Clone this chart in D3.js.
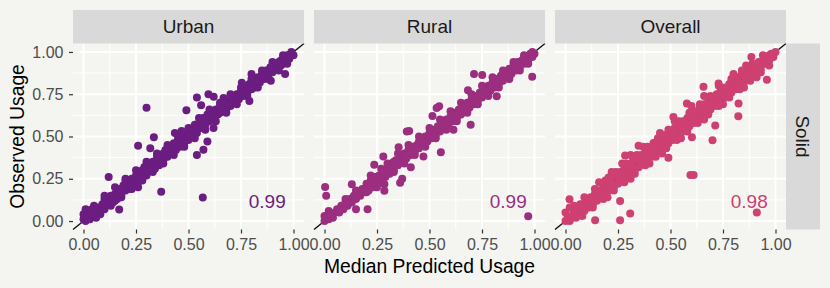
<!DOCTYPE html>
<html>
<head>
<meta charset="utf-8">
<script src="https://cdn.jsdelivr.net/npm/d3@7"></script>
<style>
  body { margin: 0; background: #f4f4f0; }
  text { font-family: "Liberation Sans", Arial, sans-serif; }
</style>
</head>
<body>
<div class="usage-chart-container"></div>
<script>
// facets and their colours
var facets = ["Urban", "Rural", "Overall"];
var facetColors = ["#6c1d81", "#9c2e7f", "#cd4071"];
var rowLabel = "Solid";
var corrLabels = ["0.99", "0.99", "0.98"];
var tickValues = [0, 0.25, 0.5, 0.75, 1];
var minorValues = [0.125, 0.375, 0.625, 0.875];

// [median predicted, observed]
var urban = [
  [0.00,0.01],[0.01,0.00],[0.02,0.03],[0.00,0.04],[0.01,0.07],[0.04,0.07],[0.03,0.01],[0.05,0.03],
  [0.06,0.05],[0.04,0.04],[0.07,0.08],[0.08,0.06],[0.09,0.10],[0.06,0.02],[0.10,0.07],[0.11,0.12],
  [0.12,0.10],[0.13,0.15],[0.14,0.11],[0.15,0.16],[0.16,0.13],[0.17,0.19],[0.18,0.15],[0.19,0.21],
  [0.20,0.18],[0.21,0.23],[0.22,0.19],[0.23,0.25],[0.24,0.21],[0.25,0.27],[0.26,0.23],[0.27,0.29],
  [0.28,0.25],[0.29,0.32],[0.30,0.27],[0.31,0.33],[0.32,0.30],[0.33,0.35],[0.34,0.31],[0.35,0.38],
  [0.36,0.33],[0.37,0.39],[0.38,0.36],[0.39,0.42],[0.40,0.38],[0.41,0.43],[0.42,0.40],[0.43,0.46],
  [0.44,0.42],[0.45,0.48],[0.46,0.44],[0.47,0.50],[0.48,0.46],[0.49,0.52],[0.50,0.48],[0.51,0.54],
  [0.52,0.50],[0.53,0.57],[0.54,0.52],[0.55,0.58],[0.56,0.55],[0.57,0.61],[0.58,0.57],[0.59,0.63],
  [0.60,0.59],[0.61,0.65],[0.62,0.61],[0.63,0.66],[0.64,0.63],[0.65,0.68],[0.66,0.65],[0.67,0.69],
  [0.68,0.66],[0.69,0.71],[0.70,0.68],[0.71,0.73],[0.72,0.70],[0.73,0.75],[0.74,0.72],[0.75,0.77],
  [0.76,0.74],[0.77,0.79],[0.78,0.76],[0.79,0.81],[0.80,0.78],[0.81,0.83],[0.82,0.79],[0.83,0.85],
  [0.84,0.82],[0.85,0.87],[0.86,0.84],[0.87,0.89],[0.88,0.86],[0.89,0.91],[0.90,0.88],[0.91,0.92],
  [0.92,0.90],[0.93,0.94],[0.94,0.92],[0.95,0.96],[0.96,0.94],[0.97,0.98],[0.98,0.96],[0.99,0.99],
  [1.00,0.98],[0.99,1.00],[0.97,0.95],[0.95,0.93],
  [0.10,0.13],[0.15,0.12],[0.20,0.24],[0.22,0.22],[0.25,0.22],[0.28,0.30],[0.30,0.31],[0.33,0.30],
  [0.35,0.34],[0.38,0.40],[0.40,0.41],[0.44,0.45],[0.46,0.49],[0.48,0.50],[0.50,0.52],[0.52,0.53],
  [0.55,0.55],[0.57,0.57],[0.60,0.62],[0.62,0.64],[0.65,0.64],[0.68,0.70],[0.70,0.71],[0.72,0.73],
  [0.75,0.74],[0.78,0.80],[0.80,0.81],[0.82,0.83],[0.85,0.84],[0.88,0.89],[0.90,0.91],[0.92,0.93],
  [0.94,0.95],[0.96,0.97],[0.98,0.98],
  [0.02,0.02],[0.06,0.06],[0.10,0.10],[0.14,0.14],[0.18,0.18],[0.26,0.26],[0.30,0.30],[0.34,0.34],
  [0.42,0.42],[0.46,0.46],[0.50,0.50],[0.54,0.54],[0.58,0.58],[0.62,0.62],[0.66,0.66],[0.70,0.70],
  [0.74,0.74],[0.78,0.78],[0.82,0.82],[0.86,0.86],[0.90,0.90],[0.94,0.94],
  [0.05,0.09],[0.10,0.15],[0.15,0.20],[0.20,0.25],[0.25,0.30],[0.30,0.35],[0.35,0.40],[0.40,0.45],
  [0.45,0.50],[0.50,0.55],[0.55,0.61],[0.60,0.66],[0.65,0.70],[0.70,0.75],[0.75,0.79],[0.80,0.84],
  [0.85,0.89],[0.90,0.94],[0.95,0.98],
  [0.08,0.04],[0.13,0.09],[0.18,0.14],[0.23,0.19],[0.28,0.24],[0.33,0.29],[0.38,0.34],[0.43,0.39],
  [0.48,0.44],[0.53,0.49],[0.58,0.54],[0.63,0.59],[0.68,0.64],[0.73,0.69],[0.78,0.74],[0.83,0.79],
  [0.88,0.84],[0.93,0.89],[0.97,0.93],
  [0.30,0.67],[0.49,0.655],[0.54,0.73],[0.56,0.685],[0.595,0.75],[0.62,0.735],[0.667,0.728],[0.79,0.71],
  [0.754,0.818],[0.80,0.87],[0.96,0.87],[0.892,0.83],[0.12,0.26],[0.17,0.068],[0.26,0.20],[0.37,0.173],
  [0.568,0.139],[0.26,0.445],[0.335,0.496],[0.318,0.431],[0.54,0.39],[0.571,0.421],[0.619,0.55],[0.59,0.47],
  [0.435,0.52],[0.467,0.532]
];

var rural = [
  [0.00,0.00],[0.01,0.02],[0.02,0.01],[0.00,0.03],[0.03,0.04],[0.04,0.02],[0.02,0.06],[0.05,0.05],
  [0.06,0.07],[0.07,0.05],[0.08,0.09],[0.09,0.07],[0.10,0.11],[0.11,0.09],[0.12,0.13],[0.13,0.11],
  [0.14,0.15],[0.15,0.13],[0.16,0.17],[0.17,0.15],[0.18,0.19],[0.19,0.17],[0.20,0.22],[0.21,0.18],
  [0.22,0.24],[0.23,0.20],[0.24,0.26],[0.25,0.22],[0.26,0.27],[0.27,0.24],[0.28,0.30],[0.29,0.26],
  [0.30,0.31],[0.31,0.28],[0.32,0.34],[0.33,0.30],[0.34,0.36],[0.35,0.33],[0.36,0.38],[0.37,0.35],
  [0.38,0.40],[0.39,0.37],[0.40,0.42],[0.41,0.39],[0.42,0.44],[0.43,0.41],[0.44,0.45],[0.45,0.43],
  [0.46,0.48],[0.47,0.45],[0.48,0.50],[0.49,0.47],[0.50,0.52],[0.51,0.49],[0.52,0.54],[0.53,0.51],
  [0.54,0.56],[0.55,0.53],[0.56,0.58],[0.57,0.55],[0.58,0.60],[0.59,0.57],[0.60,0.62],[0.61,0.59],
  [0.62,0.64],[0.63,0.61],[0.64,0.66],[0.65,0.63],[0.66,0.68],[0.67,0.65],[0.68,0.70],[0.69,0.67],
  [0.70,0.72],[0.71,0.69],[0.72,0.74],[0.73,0.71],[0.74,0.76],[0.75,0.73],[0.76,0.78],[0.77,0.75],
  [0.78,0.80],[0.79,0.77],[0.80,0.82],[0.81,0.79],[0.82,0.84],[0.83,0.81],[0.84,0.86],[0.85,0.83],
  [0.86,0.88],[0.87,0.85],[0.88,0.90],[0.89,0.87],[0.90,0.92],[0.91,0.89],[0.92,0.94],[0.93,0.91],
  [0.94,0.95],[0.95,0.93],[0.96,0.97],[0.97,0.95],[0.98,0.99],[0.99,0.97],[1.00,0.99],[0.99,1.00],
  [0.25,0.26],[0.30,0.29],[0.33,0.35],[0.36,0.35],[0.40,0.40],[0.45,0.47],[0.50,0.50],[0.55,0.56],
  [0.60,0.60],[0.65,0.66],[0.70,0.70],[0.75,0.76],[0.80,0.80],[0.85,0.86],[0.90,0.90],[0.95,0.96],
  [0.03,0.03],[0.07,0.07],[0.11,0.11],[0.15,0.15],[0.19,0.19],[0.23,0.23],[0.27,0.27],[0.31,0.31],
  [0.35,0.35],[0.39,0.39],[0.43,0.43],[0.47,0.47],[0.51,0.51],[0.55,0.55],[0.59,0.59],[0.63,0.63],
  [0.67,0.67],[0.71,0.71],[0.75,0.75],[0.79,0.79],[0.83,0.83],[0.87,0.87],[0.91,0.91],[0.95,0.95],
  [0.10,0.13],[0.15,0.18],[0.20,0.17],[0.25,0.20],[0.22,0.27],[0.27,0.31],
  [0.30,0.34],[0.35,0.40],[0.40,0.45],[0.45,0.50],[0.50,0.55],[0.55,0.60],[0.60,0.65],[0.65,0.70],
  [0.70,0.75],[0.75,0.80],[0.80,0.85],[0.85,0.89],[0.90,0.94],[0.95,0.98],
  [0.33,0.29],[0.38,0.34],[0.43,0.39],[0.48,0.44],[0.53,0.49],[0.58,0.54],[0.63,0.59],[0.68,0.64],
  [0.73,0.69],[0.78,0.74],[0.83,0.79],[0.88,0.84],[0.93,0.89],[0.97,0.93],
  [0.003,0.202],[0.008,0.149],[0.15,0.07],[0.205,0.07],[0.285,0.179],[0.285,0.218],[0.237,0.333],[0.403,0.532],
  [0.554,0.407],[0.514,0.621],[0.546,0.679],[0.712,0.869],[0.751,0.863],[0.683,0.774],[0.989,0.854],[0.97,0.028],
  [0.36,0.226],[0.37,0.25],[0.13,0.217],[0.28,0.381],[0.353,0.437],[0.392,0.53],[0.534,0.669],[0.82,0.738],
  [0.696,0.57],[0.614,0.54],[0.471,0.381],[0.411,0.318]
];

var overall = [
  [0.00,0.00],[0.01,0.03],[0.02,0.00],[0.00,0.05],[0.03,0.02],[0.02,0.08],[0.04,0.05],[0.05,0.02],
  [0.06,0.08],[0.07,0.04],[0.08,0.10],[0.09,0.06],[0.10,0.12],[0.11,0.08],[0.12,0.14],[0.13,0.10],
  [0.14,0.16],[0.15,0.12],[0.16,0.18],[0.17,0.14],[0.18,0.20],[0.19,0.16],[0.20,0.23],[0.21,0.18],
  [0.22,0.25],[0.23,0.20],[0.24,0.27],[0.25,0.22],[0.26,0.29],[0.27,0.24],[0.28,0.31],[0.29,0.26],
  [0.30,0.33],[0.31,0.28],[0.32,0.35],[0.33,0.30],[0.34,0.37],[0.35,0.32],[0.36,0.39],[0.37,0.34],
  [0.38,0.41],[0.39,0.36],[0.40,0.43],[0.41,0.38],[0.42,0.45],[0.43,0.40],[0.44,0.47],[0.45,0.42],
  [0.46,0.49],[0.47,0.44],[0.48,0.51],[0.49,0.46],[0.50,0.53],[0.51,0.48],[0.52,0.55],[0.53,0.50],
  [0.54,0.57],[0.55,0.52],[0.56,0.59],[0.57,0.54],[0.58,0.61],[0.59,0.56],[0.60,0.63],[0.61,0.58],
  [0.62,0.65],[0.63,0.60],[0.64,0.67],[0.65,0.62],[0.66,0.69],[0.67,0.64],[0.68,0.71],[0.69,0.66],
  [0.70,0.73],[0.71,0.68],[0.72,0.75],[0.73,0.70],[0.74,0.77],[0.75,0.72],[0.76,0.79],[0.77,0.74],
  [0.78,0.81],[0.79,0.76],[0.80,0.83],[0.81,0.78],[0.82,0.85],[0.83,0.80],[0.84,0.87],[0.85,0.82],
  [0.86,0.88],[0.87,0.84],[0.88,0.90],[0.89,0.86],[0.90,0.92],[0.91,0.88],[0.92,0.94],[0.93,0.90],
  [0.94,0.95],[0.95,0.93],[0.96,0.97],[0.97,0.95],[0.98,0.99],[0.99,0.97],[1.00,1.00],[0.99,0.99],
  [0.97,0.98],
  [0.05,0.06],[0.10,0.10],[0.15,0.15],[0.20,0.20],[0.25,0.26],[0.30,0.30],[0.35,0.36],[0.40,0.40],
  [0.45,0.46],[0.50,0.50],[0.55,0.56],[0.60,0.60],[0.65,0.66],[0.70,0.70],[0.75,0.76],[0.80,0.80],
  [0.85,0.86],[0.90,0.90],[0.95,0.96],[0.12,0.11],[0.18,0.17],[0.28,0.28],[0.38,0.38],[0.48,0.48],
  [0.58,0.58],[0.68,0.68],[0.78,0.78],[0.88,0.88],
  [0.02,0.02],[0.07,0.07],[0.13,0.13],[0.17,0.17],[0.22,0.22],[0.26,0.26],[0.32,0.32],[0.36,0.36],
  [0.42,0.42],[0.46,0.46],[0.52,0.52],[0.56,0.56],[0.62,0.62],[0.66,0.66],[0.72,0.72],[0.76,0.76],
  [0.82,0.82],[0.86,0.86],[0.92,0.92],[0.96,0.96],
  [0.04,0.09],[0.09,0.14],[0.14,0.19],[0.19,0.24],[0.24,0.29],[0.29,0.34],[0.34,0.39],[0.39,0.44],
  [0.44,0.49],[0.49,0.54],[0.54,0.59],[0.59,0.64],[0.64,0.69],[0.69,0.74],[0.74,0.79],[0.79,0.84],
  [0.84,0.89],[0.89,0.93],[0.94,0.98],
  [0.08,0.03],[0.13,0.08],[0.18,0.13],[0.23,0.18],[0.28,0.23],[0.33,0.28],[0.38,0.33],[0.43,0.38],
  [0.48,0.43],[0.53,0.48],[0.58,0.53],[0.63,0.58],[0.68,0.63],[0.73,0.68],[0.78,0.73],[0.83,0.78],
  [0.88,0.83],[0.93,0.88],[0.97,0.92],
  [0.16,0.23],[0.22,0.29],[0.27,0.34],[0.31,0.39],[0.37,0.44],[0.45,0.52],[0.52,0.59],[0.60,0.68],
  [0.66,0.74],[0.73,0.80],[0.80,0.87],[0.86,0.92],[0.20,0.14],[0.31,0.25],[0.40,0.34],[0.46,0.40],
  [0.55,0.49],[0.66,0.60],[0.75,0.69],[0.85,0.79],[0.91,0.85],
  [0.141,0.004],[0.26,0.004],[0.308,0.044],[0.26,0.119],[0.595,0.272],[0.61,0.272],[0.49,0.375],[0.70,0.478],
  [0.823,0.62],[0.824,0.695],[0.959,0.835],[0.911,0.05],[0.885,0.97],[0.019,0.129],[0.07,0.099],[0.205,0.258],
  [0.284,0.387],[0.348,0.446],[0.419,0.461],[0.514,0.615],[0.578,0.695],[0.602,0.496],[0.657,0.794],[0.713,0.565],
  [0.729,0.814]
];

var facetData = [urban, rural, overall];

var width = 830, height = 288;
var panelLeft = [73, 314, 555],
    panelW = 231,
    panelTop = 43.5,
    panelH = 186,
    stripTop = 10,
    stripH = 33.5,
    rightStripW = 34;

var svg = d3.select(".usage-chart-container")
    .append("svg")
    .attr("width", width)
    .attr("height", height);

svg.append("rect")
    .attr("width", width)
    .attr("height", height)
    .attr("fill", "#f4f4f0");

var x = d3.scaleLinear()
    .domain([-0.05, 1.05])
    .range([0, panelW]);

var y = d3.scaleLinear()
    .domain([-0.05, 1.05])
    .range([panelH, 0]);

facets.forEach(function(name, i) {
    var g = svg.append("g")
        .attr("transform", "translate(" + panelLeft[i] + "," + panelTop + ")");

    // minor grid
    g.selectAll(".minor-x").data(minorValues).enter().append("line")
        .attr("x1", function(d) { return x(d); })
        .attr("x2", function(d) { return x(d); })
        .attr("y1", 0).attr("y2", panelH)
        .attr("stroke", "#fff").attr("stroke-width", 1);
    g.selectAll(".minor-y").data(minorValues).enter().append("line")
        .attr("y1", function(d) { return y(d); })
        .attr("y2", function(d) { return y(d); })
        .attr("x1", 0).attr("x2", panelW)
        .attr("stroke", "#fff").attr("stroke-width", 1);

    // major grid
    g.selectAll(".major-x").data(tickValues).enter().append("line")
        .attr("x1", function(d) { return x(d); })
        .attr("x2", function(d) { return x(d); })
        .attr("y1", 0).attr("y2", panelH)
        .attr("stroke", "#fff").attr("stroke-width", 2);
    g.selectAll(".major-y").data(tickValues).enter().append("line")
        .attr("y1", function(d) { return y(d); })
        .attr("y2", function(d) { return y(d); })
        .attr("x1", 0).attr("x2", panelW)
        .attr("stroke", "#fff").attr("stroke-width", 2);

    // y = x reference line
    g.append("line")
        .attr("x1", x(-0.05)).attr("y1", y(-0.05))
        .attr("x2", x(1.05)).attr("y2", y(1.05))
        .attr("stroke", "#111").attr("stroke-width", 1.4);

    g.selectAll("circle").data(facetData[i]).enter().append("circle")
        .attr("cx", function(d) { return x(d[0]); })
        .attr("cy", function(d) { return y(d[1]); })
        .attr("r", 4)
        .attr("fill", facetColors[i]);

    g.append("text")
        .attr("x", x(0.875))
        .attr("y", y(0.115))
        .attr("dy", "0.35em")
        .attr("text-anchor", "middle")
        .attr("font-size", "19px")
        .attr("fill", facetColors[i])
        .text(corrLabels[i]);

    // strip on top
    svg.append("rect")
        .attr("x", panelLeft[i]).attr("y", stripTop)
        .attr("width", panelW).attr("height", stripH)
        .attr("fill", "#d9d9d9");
    svg.append("text")
        .attr("x", panelLeft[i] + panelW / 2)
        .attr("y", stripTop + stripH / 2)
        .attr("dy", "0.35em")
        .attr("text-anchor", "middle")
        .attr("font-size", "19px")
        .attr("fill", "#1a1a1a")
        .text(name);

    // x axis
    var xAxis = svg.append("g")
        .attr("transform", "translate(" + panelLeft[i] + "," + (panelTop + panelH) + ")")
        .call(d3.axisBottom(x).tickValues(tickValues).tickFormat(d3.format(".2f")).tickSize(4).tickPadding(5));
    xAxis.select(".domain").remove();
    xAxis.selectAll("line").attr("stroke", "#333").attr("stroke-width", 1.2);
    xAxis.selectAll("text").attr("fill", "#4d4d4d").style("font-size", "16px")
        .style("font-family", '"Liberation Sans", Arial, sans-serif');
});

// y axis on the first panel
var yAxis = svg.append("g")
    .attr("transform", "translate(" + panelLeft[0] + "," + panelTop + ")")
    .call(d3.axisLeft(y).tickValues(tickValues).tickFormat(d3.format(".2f")).tickSize(4).tickPadding(5.5));
yAxis.select(".domain").remove();
yAxis.selectAll("line").attr("stroke", "#333").attr("stroke-width", 1.2);
yAxis.selectAll("text").attr("fill", "#4d4d4d").style("font-size", "16px")
    .style("font-family", '"Liberation Sans", Arial, sans-serif');

// right strip
var rsX = panelLeft[2] + panelW;
svg.append("rect")
    .attr("x", rsX).attr("y", panelTop)
    .attr("width", rightStripW).attr("height", panelH)
    .attr("fill", "#d9d9d9");
svg.append("text")
    .attr("transform", "translate(" + (rsX + rightStripW / 2) + "," + (panelTop + panelH / 2) + ") rotate(90)")
    .attr("dy", "0.35em")
    .attr("text-anchor", "middle")
    .attr("font-size", "19px")
    .attr("fill", "#1a1a1a")
    .text(rowLabel);

// axis titles
svg.append("text")
    .attr("x", (panelLeft[0] + rsX) / 2)
    .attr("y", 273)
    .attr("text-anchor", "middle")
    .attr("font-size", "19.3px")
    .attr("fill", "#000")
    .text("Median Predicted Usage");

svg.append("text")
    .attr("transform", "translate(24," + (panelTop + panelH / 2) + ") rotate(-90)")
    .attr("text-anchor", "middle")
    .attr("font-size", "19.3px")
    .attr("fill", "#000")
    .text("Observed Usage");
</script>
</body>
</html>
